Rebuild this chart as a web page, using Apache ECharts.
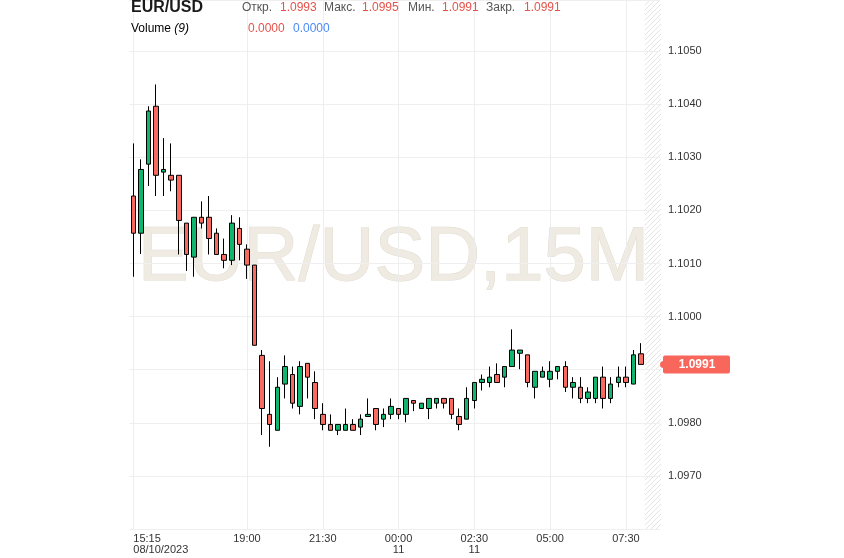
<!DOCTYPE html>
<html><head><meta charset="utf-8">
<script src="https://cdn.jsdelivr.net/npm/echarts@6/dist/echarts.min.js"></script>
<style>html,body{margin:0;padding:0;background:#fff}#c{width:844px;height:558px}</style>
</head><body><div id="c"></div>
<script>
// ---- data ----
const categories = [
'15:15','15:30','15:45','16:00','16:15','16:30','16:45','17:00','17:15','17:30',
'17:45','18:00','18:15','18:30','18:45','19:00','19:15','19:30','19:45','20:00',
'20:15','20:30','20:45','21:00','21:15','21:30','21:45','22:00','22:15','22:30',
'22:45','23:00','23:15','23:30','23:45','00:00','00:15','00:30','00:45','01:00',
'01:15','01:30','01:45','02:00','02:15','02:30','02:45','03:00','03:15','03:30',
'03:45','04:00','04:15','04:30','04:45','05:00','05:15','05:30','05:45','06:00',
'06:15','06:30','06:45','07:00','07:15','07:30','07:45','08:00','08:15','08:30'];
const opens = [
1.10227,1.10157,1.10287,1.10396,1.10272,1.10266,1.10266,1.10176,1.10112,1.10187,
1.10187,1.10157,1.10117,1.10106,1.10166,1.10127,1.10097,1.09927,1.09816,1.09786,
1.09873,1.09891,1.09831,1.09912,1.09876,1.09816,1.09797,1.09786,1.09786,1.09797,
1.09792,1.09812,1.09827,1.09807,1.09816,1.09827,1.09816,1.09842,1.09827,1.09827,
1.09837,1.09846,1.09846,1.09812,1.09807,1.09842,1.09876,1.09876,1.09891,1.09886,
1.09906,1.09931,1.09928,1.09867,1.09886,1.09882,1.09897,1.09906,1.09867,1.09867,
1.09846,1.09846,1.09886,1.09846,1.09876,1.09886,1.09873,1.0993];
const closes = [
1.10157,1.10277,1.10387,1.10266,1.10277,1.10257,1.10181,1.10117,1.10187,1.10176,
1.10147,1.10117,1.10106,1.10176,1.10136,1.10097,1.09946,1.09827,1.09797,1.09867,
1.09906,1.09837,1.09906,1.09886,1.09827,1.09797,1.09786,1.09797,1.09797,1.09786,
1.09807,1.09816,1.09797,1.09816,1.09831,1.09816,1.09846,1.09837,1.09837,1.09846,
1.09846,1.09837,1.09816,1.09797,1.09846,1.09876,1.09882,1.09886,1.09876,1.09906,
1.09937,1.09937,1.09876,1.09897,1.09897,1.09897,1.09906,1.09867,1.09876,1.09846,
1.09858,1.09886,1.09846,1.09873,1.09886,1.09876,1.09928,1.0991];
const highs = [
1.10326,1.10296,1.10396,1.10437,1.10336,1.10326,1.10266,1.10176,1.10187,1.10217,
1.10227,1.10166,1.10147,1.10191,1.10187,1.10136,1.10097,1.09937,1.09916,1.09886,
1.09927,1.09906,1.09916,1.09912,1.09897,1.09837,1.09816,1.09797,1.09827,1.09807,
1.09816,1.09846,1.09827,1.09827,1.09846,1.09827,1.09846,1.09842,1.09837,1.09846,
1.09846,1.09846,1.09846,1.09827,1.09867,1.09876,1.09891,1.09906,1.09912,1.09906,
1.09976,1.09937,1.09928,1.09897,1.09906,1.09916,1.09906,1.09916,1.09886,1.09886,
1.09867,1.09886,1.09906,1.09886,1.09906,1.09906,1.09937,1.0995];
const lows = [
1.10075,1.10118,1.10246,1.10227,1.10227,1.10236,1.10117,1.10086,1.10075,1.10166,
1.10117,1.10117,1.10091,1.10097,1.10106,1.10071,1.09946,1.09777,1.09755,1.09786,
1.09846,1.09827,1.09816,1.09846,1.09807,1.09786,1.09786,1.09777,1.09786,1.09786,
1.09777,1.09812,1.09786,1.09792,1.09807,1.09807,1.09801,1.09822,1.09827,1.09807,
1.09827,1.09827,1.09807,1.09786,1.09807,1.09827,1.09861,1.09867,1.09876,1.09867,
1.09906,1.09901,1.09867,1.09846,1.09886,1.09867,1.09882,1.09858,1.09846,1.09837,
1.09837,1.09837,1.09827,1.09837,1.09867,1.09867,1.09873,1.0991];
const tickIndex = [0, 15, 25, 35, 45, 55, 65];
const tickLabels = ['15:15\n08/10/2023', '19:00', '21:30', '00:00\n11', '02:30\n11', '05:00', '07:30'];
const symbolName = 'EUR/USD';
const watermarkText = 'EUR/USD,15M';
const headerLabels = ['Откр.', 'Макс.', 'Мин.', 'Закр.'];
const headerValues = ['1.0993', '1.0995', '1.0991', '1.0991'];
const volumeValues = ['0.0000', '0.0000'];
const volumePeriod = '9';

// ---- build ----
const FONT = "'Liberation Sans', Arial, sans-serif";
const UP = '#10b66e', DOWN = '#f8695f';
const ohlc = categories.map((c, i) => i < opens.length ? [opens[i], closes[i], lows[i], highs[i]] : '-');
const lastClose = closes[closes.length - 1];

const chart = echarts.init(document.getElementById('c'), null, {renderer: 'canvas'});
const shownTick = (idx) => tickIndex.indexOf(idx) >= 0;

chart.setOption({
  animation: false,
  backgroundColor: '#ffffff',
  grid: {left: 129.5, right: 184, top: 0, bottom: 28.9, containLabel: false},
  xAxis: {
    type: 'category', data: categories, boundaryGap: true,
    axisLine: {show: false}, axisTick: {show: false},
    axisLabel: {
      interval: (idx) => shownTick(idx),
      formatter: (v, idx) => { const k = tickIndex.indexOf(idx); return k >= 0 ? tickLabels[k] : ''; },
      color: '#333', fontSize: 11, lineHeight: 11, margin: 4, fontFamily: FONT,
      alignMinLabel: 'left'
    },
    splitLine: {show: true, interval: (idx) => shownTick(idx), alignWithLabel: true,
      lineStyle: {color: '#ededed', width: 1}}
  },
  yAxis: {
    type: 'value', position: 'right', scale: true,
    min: 1.0960, max: 1.10596, interval: 0.001,
    axisLine: {show: false}, axisTick: {show: false},
    axisLabel: {formatter: (v) => v.toFixed(4), color: '#333', fontSize: 11, margin: 8,
      fontFamily: FONT, showMinLabel: false, showMaxLabel: false},
    splitLine: {show: true, lineStyle: {color: '#efefef', width: 1}}
  },
  series: [{
    type: 'candlestick', data: ohlc, barWidth: 5, z: 3,
    itemStyle: {color: UP, color0: DOWN, borderColor: '#000', borderColor0: '#000', borderWidth: 1}
  }]
});

// decorations
function hatchCanvas() {
  const cv = document.createElement('canvas');
  cv.width = 5; cv.height = 5;
  const g = cv.getContext('2d');
  g.strokeStyle = '#e4e4e4'; g.lineWidth = 1;
  g.beginPath();
  g.moveTo(-1, 6); g.lineTo(6, -1);
  g.moveTo(-1, 1); g.lineTo(1, -1);
  g.moveTo(4, 6); g.lineTo(6, 4);
  g.stroke();
  return cv;
}
const bw = chart.convertToPixel({xAxisIndex: 0}, 1) - chart.convertToPixel({xAxisIndex: 0}, 0);
const hatchX0 = chart.convertToPixel({xAxisIndex: 0}, opens.length) - bw / 2;
const plotTop = chart.convertToPixel({yAxisIndex: 0}, 1.10596);
const plotBottom = chart.convertToPixel({yAxisIndex: 0}, 1.0960);
const plotRight = 844 - 184;
const plotLeft = 129.5;
const tagY = chart.convertToPixel({yAxisIndex: 0}, lastClose);

const lbl = {fontFamily: FONT, fontSize: 12, fill: '#555'};
const val = {fontFamily: FONT, fontSize: 12, fill: '#e5534b'};
const headerX = [[242, 280], [324, 362], [408, 442], [486, 524]];
const headerEls = [];
headerLabels.forEach((t, i) => {
  headerEls.push({type: 'text', x: headerX[i][0], y: 8, z: 20, style: Object.assign({text: t, textVerticalAlign: 'middle'}, lbl)});
  headerEls.push({type: 'text', x: headerX[i][1], y: 8, z: 20, style: Object.assign({text: headerValues[i], textVerticalAlign: 'middle'}, val)});
});

chart.setOption({
  graphic: {elements: [
    {type: 'text', x: 393.5, y: 259.5, z: -5, silent: true,
      style: {text: watermarkText, fontFamily: FONT, fontSize: 76, fill: '#efebe2',
        stroke: '#e1dccf', lineWidth: 1, textAlign: 'center', textVerticalAlign: 'middle'}},
    {type: 'rect', z: -4, silent: true,
      shape: {x: hatchX0, y: plotTop, width: plotRight + 1 - hatchX0, height: plotBottom - plotTop},
      style: {fill: {image: hatchCanvas(), repeat: 'repeat'}}},
    {type: 'text', x: 131, y: 8, z: 20,
      style: {text: symbolName, fontFamily: FONT, fontSize: 16, fontWeight: 'bold', fill: '#1a1a1a', textVerticalAlign: 'middle'}},
    ...headerEls,
    {type: 'text', x: 131, y: 29, z: 20,
      style: {text: '{a|Volume} {b|(' + volumePeriod + ')}', textVerticalAlign: 'middle',
        rich: {a: {fontFamily: FONT, fontSize: 12, color: '#333'}, b: {fontFamily: FONT, fontSize: 12, fontStyle: 'italic', color: '#333'}}}},
    {type: 'text', x: 248, y: 29, z: 20, style: {text: volumeValues[0], fontFamily: FONT, fontSize: 12, fill: '#e5534b', textVerticalAlign: 'middle'}},
    {type: 'text', x: 293, y: 29, z: 20, style: {text: volumeValues[1], fontFamily: FONT, fontSize: 12, fill: '#4a8af4', textVerticalAlign: 'middle'}},
    {type: 'circle', z: 30, shape: {cx: plotRight + 3.5, cy: tagY, r: 3.5}, style: {fill: '#f8665c'}},
    {type: 'rect', z: 30, shape: {x: plotRight + 3, y: tagY - 9, width: 67, height: 18, r: 2},
      style: {fill: '#f8665c'}},
    {type: 'text', x: 697, y: tagY, z: 31,
      style: {text: lastClose.toFixed(4), fontFamily: FONT, fontSize: 12, fontWeight: 'bold', fill: '#fff', textAlign: 'center', textVerticalAlign: 'middle'}}
  ]}
});
</script>
</body></html>
